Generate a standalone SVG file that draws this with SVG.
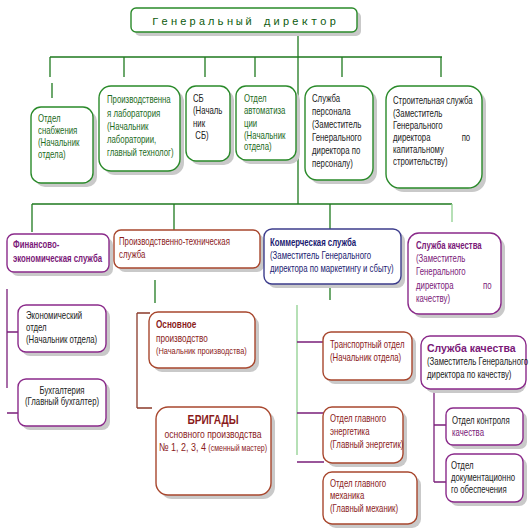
<svg xmlns="http://www.w3.org/2000/svg" width="529" height="530" viewBox="0 0 529 530">
<style>
.sh{fill:#c9c9c9}
.bx{fill:#fff;stroke-width:1.4}
.g{stroke:#2a8a2a}
.p{stroke:#8a2a8a}
.r{stroke:#a8472e}
.b{stroke:#3c3c8c}
.ln{fill:none;stroke-width:1.3}
.lg{stroke:#1f7a1f}
.llg{stroke:#8fd08f}
.lp{stroke:#7a1f7a}
.lr{stroke:#8a3a2a}
text{font-family:"Liberation Sans",Arial,sans-serif;font-size:10px}
.tg{fill:#1d6b1d}
.tk{fill:#222}
.tp{fill:#7a1878}
.tr{fill:#8a1a1a}
.tb{fill:#1a1a70}
.bd{font-weight:bold}
</style>
<rect width="529" height="530" fill="#fff"/>

<g id="connectors">
  <path class="ln lg" d="M298 32V204 M50 57H442 M50 57V77 M52 83V98 M124 57V77 M205 57V77 M255 57V77 M342 57V77 M441 57V77"/>
  <path class="ln lg" d="M32 204H452 M32 204V232 M174 204V230 M330 204V230"/>
  <path class="ln llg" d="M452 204V222"/>
  <path class="ln lp" d="M7 289V388 M7 332H18 M7 413H18"/>
  <path class="ln lg" d="M155 280V303"/>
  <path class="ln lr" d="M137 313V408 M137 313H150 M137 408H152"/>
  <path class="ln lg" d="M330 284V300"/>
  <path class="ln llg" d="M297 305V455"/>
  <path class="ln lp" d="M297 342H324 M297 413H324 M297 462H324"/>
  <path class="ln lp" d="M434 389V482 M434 425H446 M434 482H446"/>
</g>

<g id="director">
  <rect class="sh" x="135" y="12" width="226" height="24" rx="5"/>
  <rect class="bx g" x="131" y="8" width="226" height="24" rx="5"/>
  <text x="152" y="25" textLength="184" lengthAdjust="spacing" style="font-size:11px;fill:#0d5a0d;font-family:'Liberation Mono',monospace">Генеральный директор</text>
</g>

<g id="snab">
  <rect class="sh" x="35" y="111" width="62" height="76" rx="10"/>
  <rect class="bx g" x="31" y="107" width="62" height="76" rx="10"/>
  <g transform="translate(38 0) scale(0.78 1)" class="tg">
    <text x="0" y="122">Отдел</text>
    <text x="0" y="134">снабжения</text>
    <text x="0" y="146">(Начальник</text>
    <text x="0" y="158">отдела)</text>
  </g>
</g>

<g id="lab">
  <rect class="sh" x="103" y="90" width="81" height="85" rx="12"/>
  <rect class="bx g" x="99" y="86" width="81" height="85" rx="12"/>
  <g transform="translate(107 0) scale(0.78 1)" class="tg">
    <text x="0" y="103">Производственна</text>
    <text x="0" y="117">я лаборатория</text>
    <text x="0" y="130">(Начальник</text>
    <text x="0" y="143">лаборатории,</text>
    <text x="0" y="156">главный технолог)</text>
  </g>
</g>

<g id="sb">
  <rect class="sh" x="190" y="90" width="44" height="75" rx="10"/>
  <rect class="bx g" x="186" y="86" width="44" height="75" rx="10"/>
  <g transform="translate(193 0) scale(0.78 1)" class="tk">
    <text x="0" y="102">СБ</text>
    <text x="0" y="114">(Началь</text>
    <text x="0" y="127">ник</text>
    <text x="3" y="139">СБ)</text>
  </g>
</g>

<g id="avto">
  <rect class="sh" x="240" y="90" width="60" height="74" rx="10"/>
  <rect class="bx g" x="236" y="86" width="60" height="74" rx="10"/>
  <g transform="translate(244 0) scale(0.78 1)" class="tg">
    <text x="0" y="102">Отдел</text>
    <text x="0" y="114">автоматиза</text>
    <text x="0" y="127">ции</text>
    <text x="0" y="139">(Начальник</text>
    <text x="0" y="150">отдела)</text>
  </g>
</g>

<g id="personal">
  <rect class="sh" x="309" y="90" width="68" height="94" rx="12"/>
  <rect class="bx g" x="305" y="86" width="68" height="94" rx="12"/>
  <g transform="translate(312 0) scale(0.78 1)" class="tk">
    <text x="0" y="102">Служба</text>
    <text x="0" y="115">персонала</text>
    <text x="0" y="128">(Заместитель</text>
    <text x="0" y="141">Генерального</text>
    <text x="0" y="154">директора по</text>
    <text x="0" y="167">персоналу)</text>
  </g>
</g>

<g id="stroit">
  <rect class="sh" x="390" y="90" width="96" height="102" rx="14"/>
  <rect class="bx g" x="386" y="86" width="96" height="102" rx="14"/>
  <g transform="translate(393 0) scale(0.78 1)" class="tk">
    <text x="0" y="104">Строительная служба</text>
    <text x="0" y="117">(Заместитель</text>
    <text x="0" y="129">Генерального</text>
    <text x="0" y="141">директора<tspan x="88">по</tspan></text>
    <text x="0" y="153">капитальному</text>
    <text x="0" y="165">строительству)</text>
  </g>
</g>

<g id="finance">
  <rect class="sh" x="11" y="238" width="102" height="38" rx="7"/>
  <rect class="bx p" x="7" y="234" width="102" height="38" rx="7"/>
  <g transform="translate(13 0) scale(0.78 1)" class="tp bd">
    <text x="0" y="248">Финансово-</text>
    <text x="0" y="262">экономическая служба</text>
  </g>
</g>

<g id="prodtech">
  <rect class="sh" x="118" y="234" width="146" height="38" rx="7"/>
  <rect class="bx r" x="114" y="230" width="146" height="38" rx="7"/>
  <g transform="translate(119 0) scale(0.78 1)" class="tr" style="font-size:10.5px">
    <text x="0" y="245">Производственно-техническая</text>
    <text x="0" y="258">служба</text>
  </g>
</g>

<g id="commerce">
  <rect class="sh" x="268" y="233" width="137" height="55" rx="8"/>
  <rect class="bx b" x="264" y="229" width="137" height="55" rx="8"/>
  <g transform="translate(270 0) scale(0.78 1)" class="tb">
    <text class="bd" x="0" y="246">Коммерческая служба</text>
    <text x="0" y="259">(Заместитель Генерального</text>
    <text x="0" y="272">директора по маркетингу и сбыту)</text>
  </g>
</g>

<g id="quality">
  <rect class="sh" x="412" y="237" width="93" height="81" rx="11"/>
  <rect class="bx p" x="408" y="233" width="93" height="81" rx="11"/>
  <g transform="translate(416 0) scale(0.78 1)" class="tp">
    <text class="bd" x="0" y="249">Служба качества</text>
    <text x="0" y="262">(Заместитель</text>
    <text x="0" y="275">Генерального</text>
    <text x="0" y="289">директора<tspan x="86">по</tspan></text>
    <text x="0" y="302">качеству)</text>
  </g>
</g>

<g id="econ">
  <rect class="sh" x="22" y="309" width="88" height="47" rx="8"/>
  <rect class="bx p" x="18" y="305" width="88" height="47" rx="8"/>
  <g transform="translate(26 0) scale(0.78 1)" class="tk">
    <text x="0" y="319">Экономический</text>
    <text x="0" y="331">отдел</text>
    <text x="0" y="343">(Начальник отдела)</text>
  </g>
</g>

<g id="buh">
  <rect class="sh" x="22" y="383" width="88" height="47" rx="8"/>
  <rect class="bx p" x="18" y="379" width="88" height="47" rx="8"/>
  <g transform="translate(62 0) scale(0.78 1)" class="tk" text-anchor="middle">
    <text x="0" y="394">Бухгалтерия</text>
    <text x="0" y="405">(Главный бухгалтер)</text>
  </g>
</g>

<g id="osnovnoe">
  <rect class="sh" x="153" y="316" width="106" height="56" rx="9"/>
  <rect class="bx r" x="149" y="312" width="106" height="56" rx="9"/>
  <g transform="translate(156 0) scale(0.78 1)" class="tr">
    <text class="bd" x="0" y="328" style="font-size:10.5px">Основное</text>
    <text x="0" y="342" style="font-size:10.5px">производство</text>
    <text x="0" y="354" style="font-size:9.5px">(Начальник производства)</text>
  </g>
</g>

<g id="brigady">
  <rect class="sh" x="160" y="411" width="115" height="88" rx="12"/>
  <rect class="bx r" x="156" y="407" width="115" height="88" rx="12"/>
  <g transform="translate(213 0) scale(0.78 1)" class="tr" text-anchor="middle">
    <text class="bd" x="0" y="424" style="font-size:13px">БРИГАДЫ</text>
    <text x="0" y="438" style="font-size:11px">основного производства</text>
    <text x="0" y="451"><tspan style="font-size:11.5px">№ 1, 2, 3, 4 </tspan><tspan style="font-size:9px">(сменный мастер)</tspan></text>
  </g>
</g>

<g id="transport">
  <rect class="sh" x="327" y="336" width="89" height="48" rx="8"/>
  <rect class="bx r" x="323" y="332" width="89" height="48" rx="8"/>
  <g transform="translate(330 0) scale(0.78 1)" class="tr">
    <text x="0" y="348">Транспортный отдел</text>
    <text x="0" y="361">(Начальник отдела)</text>
  </g>
</g>

<g id="energ">
  <rect class="sh" x="327" y="411" width="80" height="56" rx="9"/>
  <rect class="bx r" x="323" y="407" width="80" height="56" rx="9"/>
  <g transform="translate(330 0) scale(0.78 1)" class="tr">
    <text x="0" y="422">Отдел главного</text>
    <text x="0" y="435">энергетика</text>
    <text x="0" y="448">(Главный энергетик)</text>
  </g>
</g>

<g id="mehanik">
  <rect class="sh" x="327" y="476" width="94" height="52" rx="9"/>
  <rect class="bx r" x="323" y="472" width="94" height="52" rx="9"/>
  <g transform="translate(330 0) scale(0.78 1)" class="tr">
    <text x="0" y="487">Отдел главного</text>
    <text x="0" y="499">механика</text>
    <text x="0" y="512">(Главный механик)</text>
  </g>
</g>

<g id="quality2">
  <rect class="sh" x="425" y="340" width="101" height="53" rx="9"/>
  <rect class="bx p" x="421" y="336" width="105" height="53" rx="9"/>
  <text class="tp bd" x="427" y="352" style="font-size:10.5px">Служба качества</text>
  <g transform="translate(427 0) scale(0.78 1)" class="tk" style="font-size:9px">
    <text x="0" y="365">(Заместитель Генерального</text>
    <text x="0" y="378">директора по качеству)</text>
  </g>
</g>

<g id="kontrol">
  <rect class="sh" x="450" y="412" width="77" height="37" rx="7"/>
  <rect class="bx p" x="446" y="408" width="77" height="37" rx="7"/>
  <g transform="translate(452 0) scale(0.78 1)" style="font-size:9.5px">
    <text class="tk" x="0" y="424">Отдел контроля</text>
    <text class="tp" x="0" y="436">качества</text>
  </g>
</g>

<g id="dokum">
  <rect class="sh" x="450" y="458" width="77" height="48" rx="8"/>
  <rect class="bx p" x="446" y="454" width="77" height="48" rx="8"/>
  <g transform="translate(451 0) scale(0.78 1)" class="tk" style="font-size:9.5px">
    <text x="0" y="469">Отдел</text>
    <text x="0" y="481">документационно</text>
    <text x="0" y="493">го обеспечения</text>
  </g>
</g>
</svg>
